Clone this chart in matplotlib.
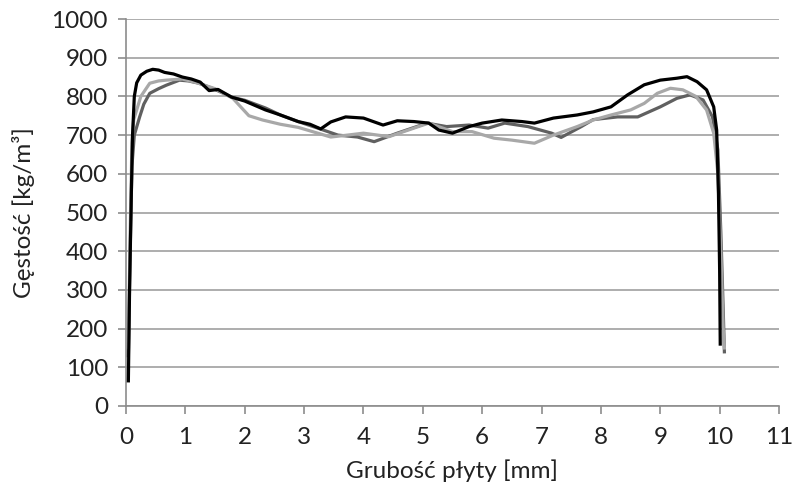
import numpy as np
import matplotlib.pyplot as plt

plt.rcParams['font.family'] = ['Lato', 'DejaVu Sans']

# profil gestosci - seria 1 (czarna)
x1 = [0.04, 0.06, 0.09, 0.11, 0.14, 0.18, 0.25, 0.35, 0.45, 0.55, 0.65, 0.8, 0.95, 1.1, 1.25,
      1.4, 1.55, 1.78, 2.0, 2.35, 2.6, 2.9, 3.1, 3.28, 3.45, 3.7, 4.0, 4.33, 4.57, 4.85, 5.1,
      5.27, 5.5, 5.78, 6.0, 6.33, 6.67, 6.88, 7.2, 7.6, 7.87, 8.17, 8.45, 8.73, 9.0, 9.28, 9.45,
      9.62, 9.78, 9.9, 9.95, 9.98, 10.0, 10.01]
y1 = [65, 300, 550, 700, 800, 835, 855, 865, 870, 868, 862, 858, 850, 845, 837,
      815, 818, 798, 788, 765, 752, 735, 728, 716, 734, 747, 744, 726, 737, 735, 731,
      713, 705, 722, 731, 739, 735, 731, 744, 752, 760, 773, 804, 830, 842, 847, 851,
      838, 817, 773, 713, 550, 350, 160]

# seria 2 (ciemnoszara)
x2 = [0.04, 0.07, 0.1, 0.14, 0.23, 0.3, 0.4, 0.55, 0.68, 0.9, 1.05, 1.23, 1.5, 1.78, 2.0,
      2.35, 2.6, 2.9, 3.23, 3.57, 3.9, 4.18, 4.57, 5.07, 5.4, 5.78, 6.1, 6.38, 6.77, 7.17,
      7.33, 7.67, 7.87, 8.28, 8.62, 9.0, 9.28, 9.5, 9.72, 9.88, 9.97, 10.02, 10.06, 10.08]
y2 = [130, 400, 620, 700, 747, 780, 808, 820, 829, 842, 840, 834, 818, 798, 790,
      770, 752, 735, 718, 700, 695, 683, 705, 731, 722, 726, 718, 731, 722, 705,
      694, 722, 740, 747, 747, 773, 795, 804, 791, 747, 662, 450, 250, 140]

# seria 3 (jasnoszara)
x3 = [0.04, 0.07, 0.1, 0.13, 0.18, 0.25, 0.4, 0.55, 0.68, 0.95, 1.2, 1.5, 1.8, 2.07, 2.3,
      2.6, 2.9, 3.23, 3.45, 3.73, 4.0, 4.43, 4.85, 5.1, 5.5, 5.83, 6.2, 6.5, 6.88, 7.2,
      7.6, 7.87, 8.17, 8.5, 8.73, 8.95, 9.17, 9.38, 9.6, 9.78, 9.9, 9.97, 10.02, 10.06, 10.08]
y3 = [150, 450, 680, 740, 765, 800, 834, 840, 842, 845, 835, 820, 795, 750, 739,
      728, 720, 705, 695, 700, 705, 696, 718, 731, 709, 709, 692, 687, 679, 700,
      722, 739, 752, 765, 782, 808, 821, 817, 800, 765, 705, 600, 400, 200, 150]

fig = plt.figure(figsize=(7.92, 4.97), dpi=100)
ax = fig.add_axes([126 / 792, 91 / 497, 653 / 792, 387 / 497])

ax.plot(x2, y2, color='#606060', lw=2.3, zorder=3)
ax.plot(x3, y3, color='#a8a8a8', lw=2.3, zorder=4)
ax.plot(x1, y1, color='black', lw=2.3, zorder=5)

ax.set_xlim(0, 11)
ax.set_ylim(0, 1000)
ax.set_xticks(range(0, 12))
ax.set_yticks(range(0, 1001, 100))
ax.yaxis.grid(True, color='#a0a0a0', lw=1.2)
ax.set_axisbelow(True)
for s in ['top', 'right']:
    ax.spines[s].set_visible(False)
for s in ['left', 'bottom']:
    ax.spines[s].set_color('#8c8c8c')
    ax.spines[s].set_linewidth(1.2)
ax.tick_params(colors='#8c8c8c', length=6, width=1.2, labelsize=17.5, labelcolor='#222222')
ax.tick_params(axis='y', pad=7)
ax.tick_params(axis='x', pad=9)

ax.set_xlabel('Grubość płyty [mm]', fontsize=17.5, color='#222222', labelpad=8)
ax.set_ylabel('Gęstość [kg/m³]', fontsize=17.5, color='#222222', labelpad=12)

fig.savefig('out.png', dpi=100)
